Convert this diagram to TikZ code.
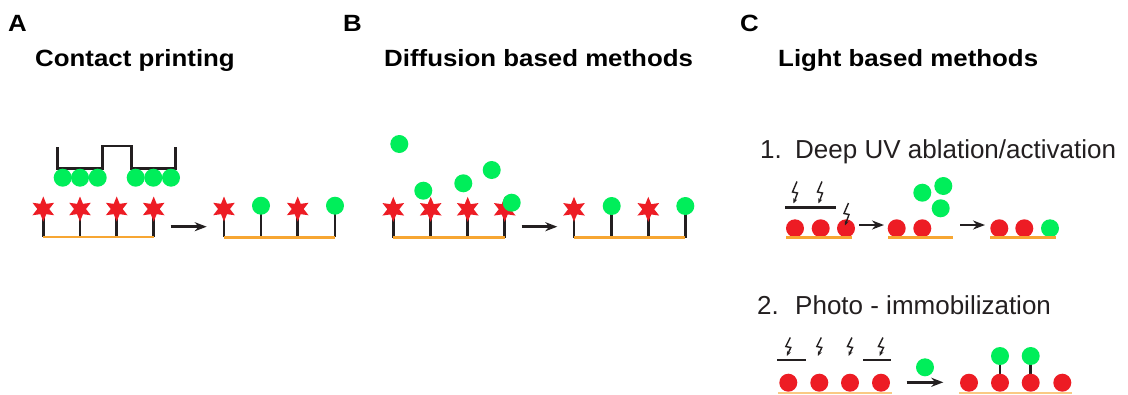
\documentclass[tikz,border=0pt]{standalone}
\usepackage{fontspec}
\setmainfont{Liberation Sans}
\newfontfamily\titlefont[FakeStretch=1.1]{Liberation Sans}
\usetikzlibrary{shapes.geometric,arrows.meta}
\definecolor{cred}{RGB}{237,28,36}
\definecolor{cgreen}{RGB}{0,238,90}
\definecolor{corange}{RGB}{247,166,50}
\definecolor{cblack}{RGB}{35,31,32}
\pgfdeclarelayer{back}
\pgfdeclarelayer{mid}
\pgfsetlayers{back,mid,main}
\tikzset{
  redstar/.style={star, star points=6, star point ratio=2.1, minimum size=25pt, inner sep=0pt, fill=cred, draw=none},
  greenball/.style={circle, fill=cgreen, minimum size=18pt, inner sep=0pt, draw=none},
  redball/.style={circle, fill=cred, minimum size=18pt, inner sep=0pt, draw=none},
  stem/.style={line width=2.8pt, draw=cblack},
  base/.style={line width=2.6pt, draw=corange},
  arr/.style={line width=2.6pt, draw=cblack, -{Stealth[length=12pt,width=9pt]}},
  mask/.style={line width=2.8pt, draw=cblack},
  bolt/.style={line width=1.4pt, draw=cblack, -{Stealth[length=5pt,width=4pt]}},
  ttl/.style={anchor=base west, inner sep=0pt, font=\titlefont\bfseries\fontsize{23.5}{28}\selectfont},
  txt/.style={anchor=base west, inner sep=0pt, font=\fontsize{26}{30}\selectfont, text=cblack},
}
\begin{document}
\begin{tikzpicture}[x=1pt,y=-1pt]
\begin{pgfonlayer}{back}
\fill[white] (0,0) rectangle (1128,394);
\end{pgfonlayer}
\useasboundingbox (0,0) rectangle (1128,394);

% ---------- titles ----------
\node[ttl] (lA) at (8,31.7) {A};
\node[ttl] (lB) at (343,31.7) {B};
\node[ttl] (lC) at (740,31.7) {C};
\node[ttl] (tA) at (35,66) {Contact printing};
\node[ttl] (tB) at (384,66) {Diffusion based methods};
\node[ttl] (tC) at (778,66) {Light based methods};

% ---------- panel A ----------
\draw[mask] (57.7,147) -- (57.7,168.5) -- (102.3,168.5) -- (102.3,146) -- (131.7,146) -- (131.7,168.5) -- (175.7,168.5) -- (175.7,147);
\foreach \x [count=\i] in {62.7,80,97.7,135.7,153.3,171}
  \node[greenball] (ag\i) at (\x,177.7) {};
\foreach \x [count=\i] in {43.3,80,116.7,153.7}
  \node[redstar] (as\i) at (\x,209) {};
\coordinate (abL1) at (43.3,237);
\coordinate (abR1) at (153.7,237);
\draw[base] (abL1) -- (abR1);
\begin{pgfonlayer}{mid}
\foreach \i in {1,...,4} \draw[stem] (as\i.center) -- (as\i.center |- abL1);
\end{pgfonlayer}
\coordinate (aa1) at (170.7,226.7);
\coordinate (aa2) at (206.7,226.7);
\draw[arr] (aa1) -- (aa2);
% right
\node[redstar] (ar1) at (224,209) {};
\node[greenball] (ar2) at (261,205.7) {};
\node[redstar] (ar3) at (297.7,209) {};
\node[greenball] (ar4) at (335,205.7) {};
\coordinate (abL2) at (224,237.3);
\coordinate (abR2) at (335,237.3);
\draw[base] (abL2) -- (abR2);
\begin{pgfonlayer}{mid}
\foreach \i in {1,...,4} \draw[stem] (ar\i.center) -- (ar\i.center |- abL2);
\end{pgfonlayer}

% ---------- panel B ----------
\foreach \x [count=\i] in {393.3,430.7,467.7,504.7}
  \node[redstar] (bs\i) at (\x,209.3) {};
\coordinate (bbL1) at (393.3,237.7);
\coordinate (bbR1) at (504.7,237.7);
\draw[base] (bbL1) -- (bbR1);
\begin{pgfonlayer}{mid}
\foreach \i in {1,...,4} \draw[stem] (bs\i.center) -- (bs\i.center |- bbL1);
\end{pgfonlayer}
\node[greenball] (bg1) at (399.3,144) {};
\node[greenball] (bg2) at (423.3,190.7) {};
\node[greenball] (bg3) at (463.3,183.3) {};
\node[greenball] (bg4) at (491.7,170) {};
\node[greenball] (bg5) at (511.7,202.7) {};
\coordinate (ba1) at (521.7,226.7);
\coordinate (ba2) at (557.3,226.7);
\draw[arr] (ba1) -- (ba2);
\node[redstar] (br1) at (574,209.3) {};
\node[greenball] (br2) at (611.7,206) {};
\node[redstar] (br3) at (648.3,209.3) {};
\node[greenball] (br4) at (685.3,206) {};
\coordinate (bbL2) at (574,237.7);
\coordinate (bbR2) at (685.3,237.7);
\draw[base] (bbL2) -- (bbR2);
\begin{pgfonlayer}{mid}
\foreach \i in {1,...,4} \draw[stem] (br\i.center) -- (br\i.center |- bbL2);
\end{pgfonlayer}

% ---------- panel C1 ----------
\node[txt] (n1) at (760,158) {1.};
\node[txt] (t1) at (795,158) {Deep UV ablation/activation};
\coordinate (m1a) at (785,207.7);
\coordinate (m1b) at (836,207.7);
\draw[mask] (m1a) -- (m1b);
\foreach \x [count=\i] in {795,820.7,846}
  \node[redball] (c1r\i) at (\x,228.3) {};
\coordinate (c1bL) at (786,237.7);
\coordinate (c1bR) at (851.7,237.7);
\draw[base] (c1bL) -- (c1bR);
\foreach \x in {795,820} {
  \draw[bolt] (\x+2,181.5) -- (\x-2.5,192) -- (\x+2.5,193) -- (\x-1.5,203.5);
}
\draw[bolt] (848.5,203) -- (844,213.5) -- (849,214.5) -- (845,225.5);
\coordinate (c1a1) at (859,225);
\coordinate (c1a2) at (884,225);
\draw[arr] (c1a1) -- (c1a2);
\node[redball] (c1m1) at (896.7,228.3) {};
\node[redball] (c1m2) at (922.3,228.3) {};
\coordinate (c1bL2) at (888,237.7);
\coordinate (c1bR2) at (953.3,237.7);
\draw[base] (c1bL2) -- (c1bR2);
\node[greenball] (c1g1) at (922.3,192.7) {};
\node[greenball] (c1g2) at (943.3,186) {};
\node[greenball] (c1g3) at (940.7,208.3) {};
\coordinate (c1a3) at (960,225);
\coordinate (c1a4) at (985,225);
\draw[arr] (c1a3) -- (c1a4);
\node[redball] (c1f1) at (999.3,228.3) {};
\node[redball] (c1f2) at (1024.3,228.3) {};
\node[greenball] (c1f3) at (1050,228.3) {};
\coordinate (c1bL3) at (990,237.7);
\coordinate (c1bR3) at (1056,237.7);
\draw[base] (c1bL3) -- (c1bR3);

% ---------- panel C2 ----------
\node[txt] (n2) at (757,314) {2.};
\node[txt] (t2) at (795,314) {Photo - immobilization};
\foreach \x in {788.3,819.3,850,881} {
  \draw[bolt] (\x+2,337.5) -- (\x-2.5,346.5) -- (\x+2.5,347.5) -- (\x-1.5,356);
}
\coordinate (m2a) at (777.3,360);
\coordinate (m2b) at (806,360);
\draw[mask] (m2a) -- (m2b);
\coordinate (m2c) at (863.3,360);
\coordinate (m2d) at (890.7,360);
\draw[mask] (m2c) -- (m2d);
\foreach \x [count=\i] in {788.3,819.3,850,881}
  \node[redball] (c2r\i) at (\x,382.7) {};
\coordinate (c2bL) at (778,393);
\coordinate (c2bR) at (891.7,393);
\draw[base, draw=corange!60] (c2bL) -- (c2bR);
\node[greenball] (c2g) at (925,367.3) {};
\coordinate (c2a1) at (906.7,382.3);
\coordinate (c2a2) at (943.3,382.3);
\draw[arr] (c2a1) -- (c2a2);
\foreach \x [count=\i] in {969,1000,1030.7,1062.3}
  \node[redball] (c2f\i) at (\x,382.7) {};
\node[greenball] (c2u2) at (1000,356) {};
\node[greenball] (c2u3) at (1030.7,356) {};
\begin{pgfonlayer}{mid}
\draw[stem] (c2f2.center) -- (c2u2.center);
\draw[stem] (c2f3.center) -- (c2u3.center);
\end{pgfonlayer}
\coordinate (c2bL2) at (959.3,393);
\coordinate (c2bR2) at (1071.7,393);
\draw[base, draw=corange!60] (c2bL2) -- (c2bR2);
\end{tikzpicture}
\end{document}
